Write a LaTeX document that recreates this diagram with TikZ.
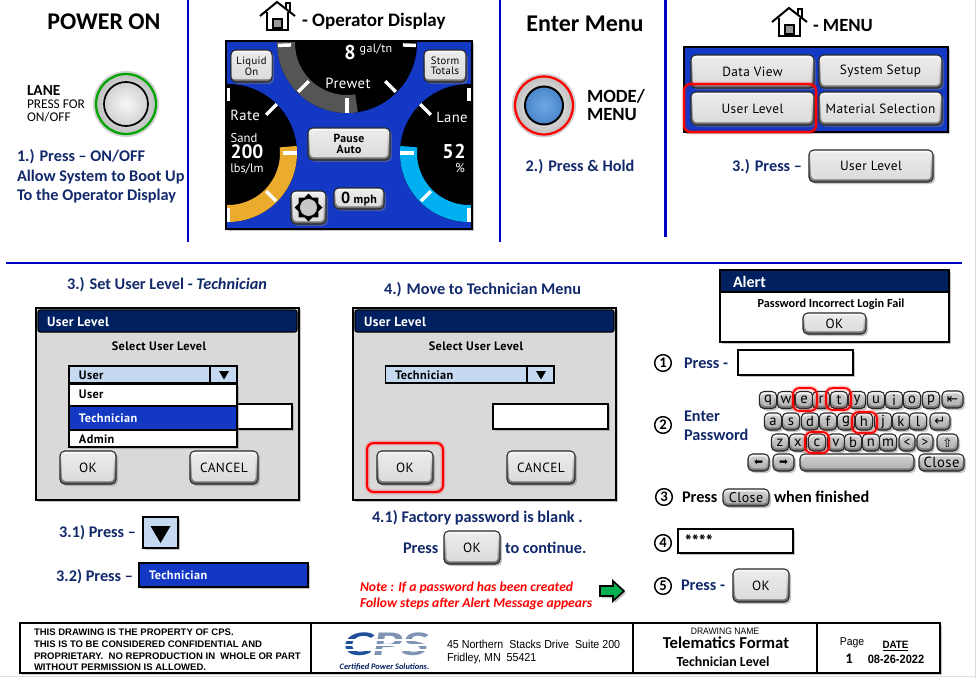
\documentclass[tikz,border=0pt]{standalone}
\usepackage{fontspec}
\setmainfont{Carlito}
\newfontfamily\din[LetterSpace=3]{PT Sans}
\newfontfamily\dejavu{DejaVu Sans}
\newfontfamily\foot[FakeStretch=0.92]{Liberation Sans}
\newfontfamily\footw{Liberation Sans}
\usetikzlibrary{shadows,shapes.geometric,calc}
\definecolor{navy}{HTML}{002060}
\definecolor{headblue}{HTML}{12296B}
\definecolor{rule}{HTML}{0000C0}
\definecolor{scr}{HTML}{1238C4}
\definecolor{lblue}{HTML}{C5D9F1}
\definecolor{panel}{HTML}{D9D9D9}
\definecolor{gaugegray}{HTML}{555555}
\definecolor{gaugeorange}{HTML}{EBAB2D}
\definecolor{gaugecyan}{HTML}{00B0F0}
\definecolor{logoblue}{HTML}{1F4E9A}
\definecolor{logogray}{HTML}{7F93B5}
\definecolor{arrowgreen}{HTML}{00B050}
\definecolor{modein}{HTML}{6FA8E0}
\definecolor{modeout}{HTML}{4A86CC}
\newcommand\fs[1]{\fontsize{#1}{#1}\selectfont}
\tikzset{
 x=0.75pt,y=-0.75pt,
 sdw/.style={drop shadow={opacity=.45,shadow xshift=1.5pt,shadow yshift=-1.5pt}},
 txt/.style={inner sep=0pt,outer sep=0pt},
 hd/.style={txt,text=headblue,font=\bfseries\fs{12.2}},
 black hd/.style={txt,text=black,font=\bfseries\fs{12.2}},
 rulel/.style={draw=rule,line width=1.6pt},
 btnbase/.style={draw=black!85,line width=.8pt,rounded corners=3.5pt,top color=white,bottom color=black!60,inner sep=0pt,outer sep=0pt,sdw},
 btnface/.style={rounded corners=2.5pt,top color=black!8,bottom color=black!14,inner sep=0pt,outer sep=0pt,text=black},
 hl/.style={draw=red,line width=1.5pt,rounded corners=5pt,preaction={draw=red,opacity=.22,line width=3.6pt}},
 box/.style={draw=black,line width=1pt,fill=white,sdw},
 dial/.style={draw=black,line width=1.8pt,fill=panel,sdw},
 titlebar/.style={fill=navy,draw=black,line width=.8pt,rounded corners=1.5pt},
 ttl/.style={txt,text=white,font=\din\bfseries\fs{10}},
 dlg/.style={txt,text=black,font=\din\bfseries\fs{9.2}},
 gtxt/.style={txt,text=white,font=\din\fs{10.5}},
 tick/.style={draw=white,line width=2.6pt},
 cnum/.style={circle,draw=black,line width=1.1pt,inner sep=0pt,minimum size=12.5pt,font=\bfseries\fs{11}},
 footl/.style={txt,anchor=west,font=\footw\bfseries\fs{7.15}},
 keyface/.style={btnface/.append style={top color=black!20,bottom color=black!30}},
}
% name x1 y1 x2 y2 text
\newcommand\btn[7][\din\fs{10}]{%
 \pgfmathsetmacro\bw{(#5-#3)*.75}\pgfmathsetmacro\bh{(#6-#4)*.75}%
 \pgfmathsetmacro\cw{(#5-#3)*.75-3.5}\pgfmathsetmacro\chh{(#6-#4)*.75-4}%
 \node[btnbase,minimum width=\bw pt,minimum height=\bh pt] (#2) at ({(#3+#5)/2},{(#4+#6)/2}) {};
 \node[btnface,minimum width=\cw pt,minimum height=\chh pt,font=#1] at (#2) {#7};}
\newcommand\homeicon[2]{%
 \begin{scope}[shift={(#1,#2)},line width=1.5pt,line join=miter]
 \draw (0,15) -- (17,1) -- (35,15);
 \draw (26,8) -- (26,2) -- (30,2) -- (30,11);
 \draw (7,11) -- (7,29) -- (28,29) -- (28,11);
 \draw[fill=black!40,line width=.8pt] (13,18) rectangle (22,27);
 \end{scope}}
\newcommand\tri[3]{\fill (#1-#3,#2-#3*.8) -- (#1+#3,#2-#3*.8) -- (#1,#2+#3*.9) -- cycle;}
\newcommand\arcband[7]{% cx cy r width a1 a2 colour
 \draw[#7,line width=#4*.75pt] plot[domain=#5:#6,samples=50] ({#1+#3*cos(\x)},{#2+#3*sin(\x)});}
\newcommand\gtick[5]{\draw[tick] ($(#1,#2)+(#3:#4)$) -- ($(#1,#2)+(#3:#5)$);}
\newcommand\key[3]{\btn[\din\fs{11}\color{black!85}]{k#1}{(#2-8.7)}{(#3-8.5)}{(#2+8.7)}{(#3+8.5)}{#1}}
\begin{document}
\begin{tikzpicture}
\useasboundingbox (0,0) rectangle (976,678);
\fill[white] (0,0) rectangle (976,678);
\draw[black!15,line width=.8pt] (975.5,0) -- (975.5,678);
\draw[black!12,line width=.8pt] (0,676.5) -- (976,676.5);
% rules
\draw[rulel] (188,0) -- (188,242);
\draw[rulel] (500,0) -- (500,242);
\draw[rulel] (665.5,0) -- (665.5,237);
\draw[rulel] (6,263) -- (962,263);
% Panel 1
\node[txt,font=\bfseries\fs{18}] (t1) at (104,22) {POWER ON};
\node[txt,anchor=west,font=\bfseries\fs{11.5}] (lane) at (27,91) {LANE};
\node[txt,anchor=west,font=\fs{10}] (l2) at (27,104) {PRESS FOR};
\node[txt,anchor=west,font=\fs{10}] (l3) at (27,117) {ON/OFF};
\fill[black!18] (126,104) circle [radius=33];
\draw[green!65!black,line width=1.7pt,inner color=white,outer color=black!25] (126,104) circle [radius=30];
\shade[inner color=black!3,outer color=black!18,draw=black,line width=1.3pt] (126,104) circle [radius=22];
\node[hd,anchor=west] (p1) at (17,157) {1.) Press – ON/OFF};
\node[hd,anchor=west] (p1b) at (17,177) {Allow System to Boot Up};
\node[hd,anchor=west] (p1c) at (17,196) {To the Operator Display};
% Panel 2
\homeicon{260}{1}
\node[txt,anchor=west,font=\bfseries\fs{14.3}] (t2) at (302,21) {- Operator Display};
\fill[scr,sdw] (226,41) rectangle (472,229);
\begin{scope}
\clip (226,41) rectangle (472,229);
\fill[black] (347,43) circle [radius=70];
\fill[black] (228,153) circle [radius=69];
\fill[black] (469,153) circle [radius=69];
\arcband{347}{43}{61}{18}{81}{181}{gaugegray}
\arcband{228}{153}{60.5}{17}{-6}{92}{gaugeorange}
\arcband{469}{153}{60.5}{17}{88}{186}{gaugecyan}
\gtick{347}{43}{178}{56}{69}\gtick{347}{43}{135}{54}{69}\gtick{347}{43}{90}{55}{70}\gtick{347}{43}{45}{54}{69}\gtick{347}{43}{2}{56}{69}
\gtick{228}{153}{-90}{52}{65}\gtick{228}{153}{-45}{54}{69}\gtick{228}{153}{0}{55}{69}\gtick{228}{153}{45}{54}{68}\gtick{228}{153}{90}{55}{69}
\gtick{469}{153}{-90}{52}{65}\gtick{469}{153}{225}{54}{69}\gtick{469}{153}{180}{55}{69}\gtick{469}{153}{135}{54}{68}\gtick{469}{153}{90}{55}{69}
\end{scope}
\draw[black,line width=2pt] (226,41) rectangle (472,229);
\node[gtxt,font=\din\bfseries\fs{15}] (g8) at (350,52) {8};
\node[gtxt,font=\din\fs{9}] (gal) at (376,49) {gal/tn};
\node[gtxt,font=\din\fs{11}] (prewet) at (348,83) {Prewet};
\node[gtxt,font=\din\fs{11}] (rate) at (245,115) {Rate};
\node[gtxt,font=\fontspec{PT Sans}\fs{9.5}] (sand) at (244,138.5) {Sand};
\node[gtxt,font=\fontspec{PT Sans}\bfseries\fs{14.5}] (v200) at (247,152) {200};
\node[gtxt,font=\fontspec{PT Sans}\fs{9.2}] (lbs) at (247,169) {lbs/lm};
\node[gtxt,font=\din\fs{11}] (glane) at (452,117) {Lane};
\node[gtxt,font=\din\bfseries\fs{15}] (v52) at (454,151) {52};
\node[gtxt,font=\din\fs{9.5}] (pct) at (460,168) {\%};
\btn[\din\fs{8}]{liquid}{231}{50}{272}{82}{\parbox{30pt}{\centering\linespread{.9}\selectfont Liquid\\On}}
\btn[\din\fs{8}]{storm}{424}{50}{466}{82}{\parbox{30pt}{\centering\linespread{.9}\selectfont Storm\\Totals}}
\btn[\din\bfseries\fs{8.8}]{pause}{308}{128}{390}{160}{\parbox{50pt}{\centering\linespread{.9}\selectfont Pause\\Auto}}
\btn{sun}{291}{191}{326}{224}{}
\node[star,star points=8,star point ratio=1.32,fill=black,minimum size=21pt,inner sep=0pt] (gear) at (308.5,207.5) {};
\fill[black!22] (gear.center) circle [radius=8.5];
\btn[\din\bfseries\fs{9}]{mph}{334}{188}{384}{209}{{\fs{12}0} mph}
% Panel 3
\node[txt,font=\bfseries\fs{18}] (t3) at (585,24) {Enter Menu};
\fill[black!18] (544,105.5) circle [radius=32];
\draw[red,line width=1.7pt,inner color=white,outer color=black!25] (544,105.5) circle [radius=29];
\shade[inner color=modein,outer color=modeout,draw=black,line width=1.5pt] (544,105.5) circle [radius=19];
\node[txt,anchor=west,font=\bfseries\fs{14},align=left] (mode) at (587,105) {MODE/\\[-1pt]MENU};
\node[hd] (p2) at (580,167) {2.) Press \& Hold};
% Panel 4
\homeicon{772}{7}
\node[txt,anchor=west,font=\bfseries\fs{14}] (t4) at (813,26) {- MENU};
\fill[scr,sdw] (684,47) rectangle (948,132);
\draw[black,line width=1.8pt] (684,47) rectangle (948,132);
\btn{dv}{691}{55}{814}{88}{Data View}
\btn{ss}{819}{55}{942}{88}{System Setup}
\btn{ul}{691}{92}{814}{125}{User Level}
\btn[\din\fs{10}]{ms}{819}{92}{942}{125}{Material Selection}
\draw[hl] (684,84) rectangle (816,132);
\node[hd,anchor=east] (p3) at (802,167) {3.) Press –};
\btn{ul2}{809}{150}{933}{182}{User Level}
% Dialog 1
\node[hd] (h3) at (167,285) {3.) Set User Level - \textit{Technician}};
\draw[dial] (36,308) rectangle (299,500);
\draw[titlebar] (38,310) rectangle (297,332);
\node[ttl,anchor=west] (d1t) at (47,322) {User Level};
\node[dlg] (d1s) at (159,346) {Select User Level};
\draw[box] (170,404) rectangle (292,429);
\draw[draw=black,line width=.9pt,fill=lblue] (69,366) rectangle (237,383);
\draw[line width=.9pt] (210,366) -- (210,383);
\tri{224}{375}{5}
\node[dlg,anchor=west] (d1u) at (79,375) {User};
\draw[box] (69,384) rectangle (237,447);
\draw[fill=scr,draw=black,line width=.9pt] (69,406) rectangle (237,430);
\node[dlg,anchor=west] (d1a) at (79,394) {User};
\node[dlg,anchor=west,text=white] (d1b) at (79,418) {Technician};
\node[dlg,anchor=west] (d1c) at (79,439) {Admin};
\btn{ok1}{60}{451}{116}{484}{OK}
\btn{can1}{190}{451}{258}{484}{CANCEL}
\node[hd,anchor=east] (p31) at (136,533) {3.1) Press –};
\draw[box,line width=1.4pt,fill=lblue] (143,517) rectangle (178,548);
\tri{160.5}{534}{10}
\node[hd,anchor=east] (p32) at (133,577) {3.2) Press –};
\draw[box,fill=scr] (139,563) rectangle (308,587);
\node[dlg,anchor=west,text=white] (p32t) at (149,575) {Technician};
% Dialog 2
\node[hd] (h4) at (482.5,290) {4.) Move to Technician Menu};
\draw[dial] (353,308) rectangle (616,500);
\draw[titlebar] (355,310) rectangle (614,332);
\node[ttl,anchor=west] (d2t) at (364,322) {User Level};
\node[dlg] (d2s) at (476,346) {Select User Level};
\draw[draw=black,line width=.9pt,fill=lblue] (385.5,366) rectangle (554,383);
\draw[line width=.9pt] (527,366) -- (527,383);
\tri{541}{375}{5}
\node[dlg,anchor=west] (d2u) at (395,375) {Technician};
\draw[box] (493,404) rectangle (608,429);
\btn{ok2}{377}{451}{433}{484}{OK}
\draw[hl] (367,443) rectangle (443,492);
\btn{can2}{507}{451}{575}{484}{CANCEL}
\node[hd,anchor=west] (p41) at (372,518) {4.1) Factory password is blank .};
\node[hd,anchor=west] (p41b) at (403,548) {Press};
\btn{ok3}{444}{531}{500}{564}{OK}
\node[hd,anchor=west] (p41c) at (505,548) {to continue.};
\node[txt,anchor=west,text=red,font=\bfseries\itshape\fs{10.2}] (note1) at (360,588) {Note : If a password has been created};
\node[txt,anchor=west,text=red,font=\bfseries\itshape\fs{10.2}] (note2) at (360,604) {Follow steps after Alert Message appears};
\fill[arrowgreen,draw=black,line width=1.2pt,sdw] (600,586) -- (613,586) -- (613,581) -- (624,591) -- (613,601) -- (613,596) -- (600,596) -- cycle;
% Alert
\draw[dial,fill=white] (720,270) rectangle (949,342);
\fill[navy] (721,271) rectangle (948,292);
\draw[line width=1pt] (720,292) -- (949,292);
\node[txt,anchor=west,text=white,font=\bfseries\fs{12}] (alert) at (733,282) {Alert};
\node[txt,font=\bfseries\fs{9.2}] (pw) at (831,304) {Password Incorrect Login Fail};
\btn{okal}{803}{313}{866}{334}{OK}
% Steps
\node[cnum] (c1) at (663,363) {1};
\node[hd,anchor=west] (s1) at (684,363) {Press -};
\draw[box] (738,350) rectangle (853,375);
\node[cnum] (c2) at (663,425) {2};
\node[hd,anchor=west] (s2a) at (684,416) {Enter};
\node[hd,anchor=west] (s2b) at (684,435) {Password};
\begin{scope}[keyface]
\foreach \c/\x in {q/768,w/786,e/804,r/821,t/839,y/857,u/876,i/894,o/912,p/931}{\key{\c}{\x}{400}}
\foreach \c/\x in {a/773,s/791,d/810,f/828,g/846,h/864,j/883,k/901,l/918}{\key{\c}{\x}{421.5}}
\foreach \c/\x in {z/780,x/798,c/817,v/836,b/853,n/871,m/888}{\key{\c}{\x}{442.5}}
\btn[\din\fs{10}\color{black!85}]{klt}{899}{434}{915}{451}{<}
\btn[\din\fs{10}\color{black!85}]{kgt}{917}{434}{933}{451}{>}
\btn[\dejavu\fs{9}]{kup}{937}{434}{958}{451}{⇧}
\btn[\dejavu\fs{10}]{kbs}{942}{391}{963}{408}{⇤}
\btn[\dejavu\fs{10}]{ken}{930}{413}{950}{430}{↵}
\btn[\dejavu\fs{8}]{kl}{748}{454}{769}{471}{⬅}
\btn[\dejavu\fs{8}]{kr}{773}{454}{794}{471}{➡}
\btn{ksp}{800}{454}{914}{471}{}
\btn[\din\fs{11}\color{black!85}]{kcl}{919}{454}{964}{471}{Close}
\btn[\din\fs{10.5}\color{black!85}]{cl2}{723}{489}{769}{506}{Close}
\end{scope}
\draw[hl,line width=1.3pt] (793,388) rectangle (817,411);
\draw[hl,line width=1.3pt] (826,388) rectangle (851,410);
\draw[hl,line width=1.3pt] (852,412) rectangle (877,433);
\draw[hl,line width=1.3pt] (805,432) rectangle (829,453);
\node[cnum] (c3) at (664,497) {3};
\node[black hd,anchor=west] (s3) at (682,497) {Press};
\node[black hd,anchor=west] (s3b) at (774,497) {when finished};
\node[cnum] (c4) at (663,543) {4};
\draw[box] (678,529) rectangle (793,553);
\node[txt,anchor=west,font=\din\bfseries\fs{13}] (stars) at (685,541) {****};
\node[cnum] (c5) at (663,586) {5};
\node[hd,anchor=west] (s5) at (681,585) {Press -};
\btn{ok5}{733}{569}{789}{602}{OK}
% Footer
\draw[black,line width=1.9pt,fill=white,sdw] (20,623) rectangle (940,673);
\draw[line width=1.9pt] (311,623) -- (311,673) (633,623) -- (633,673) (817,623) -- (817,673);
\node[footl] (f1) at (34,632) {THIS DRAWING IS THE PROPERTY OF CPS.};
\node[footl] (f2) at (34,644) {THIS IS TO BE CONSIDERED CONFIDENTIAL AND};
\node[footl] (f3) at (34,656) {PROPRIETARY.\ \ NO REPRODUCTION IN\ \ WHOLE OR PART};
\node[footl] (f4) at (34,667) {WITHOUT PERMISSION IS ALLOWED.};
\node[txt,text=logoblue,font=\bfseries\itshape\fs{26},xscale=1.6] (logo) at (386,644) {C\textcolor{logogray}{PS}};
\foreach \y in {640,645,650}{\draw[white,line width=.8pt] (342,\y) -- (430,\y);}
\node[txt,text=navy,font=\bfseries\itshape\fs{6.3}] (logot) at (384.5,667) {Certified Power Solutions.};
\node[footl,font=\foot\fs{8.7}] (addr1) at (447,644) {45 Northern\ \ Stacks Drive\ \ Suite 200};
\node[footl,font=\foot\fs{8.7}] (addr2) at (447,658) {Fridley, MN\ \ 55421};
\node[txt,font=\foot\fs{7}] (dn) at (725,631) {DRAWING NAME};
\node[txt,font=\bfseries\fs{12.5}] (tf) at (726,643) {Telematics Format};
\node[txt,font=\bfseries\fs{10.4}] (tl) at (723,662) {Technician Level};
\node[txt,font=\foot\fs{8.5}] (pg) at (852,643) {Page};
\node[txt,font=\bfseries\fs{11}] (pg1) at (849,659) {1};
\node[txt,font=\foot\bfseries\fs{8}] (dt) at (895.5,646.5) {\underline{DATE}};
\node[txt,font=\foot\bfseries\fs{9}] (date) at (896,659) {08-26-2022};
\end{tikzpicture}
\end{document}
